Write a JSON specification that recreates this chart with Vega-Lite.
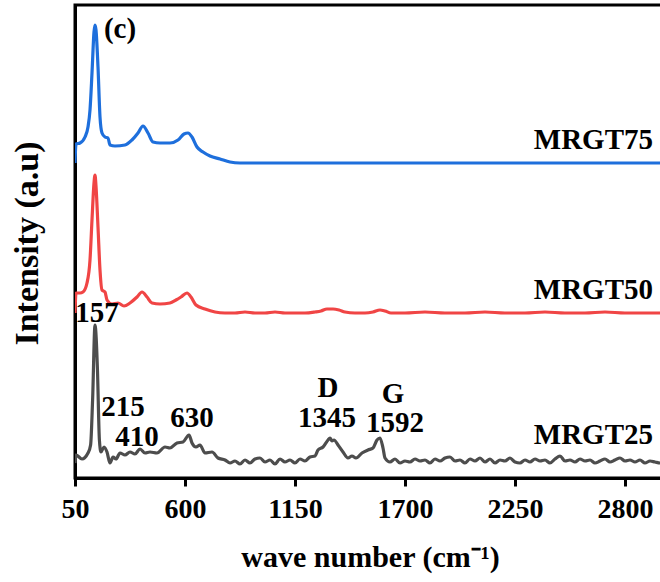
{
  "$schema": "https://vega.github.io/schema/vega-lite/v6.json",
  "width": 590,
  "height": 473,
  "autosize": {"type": "none"},
  "padding": {"left": 75, "top": 5, "right": 0, "bottom": 104},
  "background": "white",
  "view": {"stroke": "black", "strokeWidth": 3},
  "config": {"font": "Liberation Serif"},
  "datasets": {
    "spectra": [
      {"s":"MRGT25","w":50,"i":15},{"s":"MRGT25","w":55,"i":23},{"s":"MRGT25","w":85,"i":19},{"s":"MRGT25","w":115,"i":25},{"s":"MRGT25","w":128,"i":33},{"s":"MRGT25","w":138,"i":78},{"s":"MRGT25","w":150,"i":153},{"s":"MRGT25","w":162,"i":110},{"s":"MRGT25","w":172,"i":38},{"s":"MRGT25","w":180,"i":26},{"s":"MRGT25","w":195,"i":31},{"s":"MRGT25","w":210,"i":26},{"s":"MRGT25","w":225,"i":15},{"s":"MRGT25","w":240,"i":21},{"s":"MRGT25","w":255,"i":19},{"s":"MRGT25","w":275,"i":25},{"s":"MRGT25","w":300,"i":23},{"s":"MRGT25","w":325,"i":26},{"s":"MRGT25","w":350,"i":24},{"s":"MRGT25","w":375,"i":29},{"s":"MRGT25","w":400,"i":25},{"s":"MRGT25","w":425,"i":26},{"s":"MRGT25","w":460,"i":25},{"s":"MRGT25","w":500,"i":31},{"s":"MRGT25","w":525,"i":30},{"s":"MRGT25","w":560,"i":35},{"s":"MRGT25","w":590,"i":36},{"s":"MRGT25","w":620,"i":43},{"s":"MRGT25","w":635,"i":35},{"s":"MRGT25","w":655,"i":31},{"s":"MRGT25","w":675,"i":33},{"s":"MRGT25","w":700,"i":25},{"s":"MRGT25","w":735,"i":26},{"s":"MRGT25","w":765,"i":20},{"s":"MRGT25","w":800,"i":18},{"s":"MRGT25","w":825,"i":15},{"s":"MRGT25","w":850,"i":17},{"s":"MRGT25","w":875,"i":14},{"s":"MRGT25","w":900,"i":18},{"s":"MRGT25","w":925,"i":15},{"s":"MRGT25","w":950,"i":19},{"s":"MRGT25","w":975,"i":20},{"s":"MRGT25","w":1000,"i":16},{"s":"MRGT25","w":1025,"i":18},{"s":"MRGT25","w":1050,"i":14},{"s":"MRGT25","w":1075,"i":19},{"s":"MRGT25","w":1100,"i":16},{"s":"MRGT25","w":1125,"i":18},{"s":"MRGT25","w":1150,"i":15},{"s":"MRGT25","w":1175,"i":19},{"s":"MRGT25","w":1200,"i":17},{"s":"MRGT25","w":1225,"i":21},{"s":"MRGT25","w":1250,"i":22},{"s":"MRGT25","w":1265,"i":28},{"s":"MRGT25","w":1290,"i":31},{"s":"MRGT25","w":1315,"i":38},{"s":"MRGT25","w":1325,"i":40},{"s":"MRGT25","w":1335,"i":37},{"s":"MRGT25","w":1345,"i":38},{"s":"MRGT25","w":1365,"i":33},{"s":"MRGT25","w":1390,"i":26},{"s":"MRGT25","w":1415,"i":20},{"s":"MRGT25","w":1435,"i":22},{"s":"MRGT25","w":1455,"i":20},{"s":"MRGT25","w":1485,"i":25},{"s":"MRGT25","w":1515,"i":28},{"s":"MRGT25","w":1540,"i":30},{"s":"MRGT25","w":1560,"i":38},{"s":"MRGT25","w":1575,"i":40},{"s":"MRGT25","w":1590,"i":30},{"s":"MRGT25","w":1600,"i":20},{"s":"MRGT25","w":1625,"i":16},{"s":"MRGT25","w":1650,"i":19},{"s":"MRGT25","w":1675,"i":15},{"s":"MRGT25","w":1700,"i":17},{"s":"MRGT25","w":1725,"i":16},{"s":"MRGT25","w":1750,"i":19},{"s":"MRGT25","w":1775,"i":17},{"s":"MRGT25","w":1800,"i":18},{"s":"MRGT25","w":1825,"i":15},{"s":"MRGT25","w":1850,"i":19},{"s":"MRGT25","w":1875,"i":17},{"s":"MRGT25","w":1900,"i":20},{"s":"MRGT25","w":1925,"i":21},{"s":"MRGT25","w":1950,"i":17},{"s":"MRGT25","w":1975,"i":18},{"s":"MRGT25","w":2000,"i":15},{"s":"MRGT25","w":2025,"i":19},{"s":"MRGT25","w":2050,"i":17},{"s":"MRGT25","w":2075,"i":20},{"s":"MRGT25","w":2100,"i":16},{"s":"MRGT25","w":2125,"i":19},{"s":"MRGT25","w":2150,"i":15},{"s":"MRGT25","w":2175,"i":18},{"s":"MRGT25","w":2200,"i":17},{"s":"MRGT25","w":2225,"i":20},{"s":"MRGT25","w":2250,"i":16},{"s":"MRGT25","w":2275,"i":15},{"s":"MRGT25","w":2300,"i":18},{"s":"MRGT25","w":2325,"i":16},{"s":"MRGT25","w":2350,"i":19},{"s":"MRGT25","w":2375,"i":17},{"s":"MRGT25","w":2400,"i":18},{"s":"MRGT25","w":2425,"i":15},{"s":"MRGT25","w":2450,"i":19},{"s":"MRGT25","w":2475,"i":22},{"s":"MRGT25","w":2500,"i":17},{"s":"MRGT25","w":2525,"i":18},{"s":"MRGT25","w":2550,"i":16},{"s":"MRGT25","w":2575,"i":19},{"s":"MRGT25","w":2600,"i":17},{"s":"MRGT25","w":2625,"i":18},{"s":"MRGT25","w":2650,"i":15},{"s":"MRGT25","w":2675,"i":17},{"s":"MRGT25","w":2700,"i":19},{"s":"MRGT25","w":2725,"i":16},{"s":"MRGT25","w":2750,"i":18},{"s":"MRGT25","w":2775,"i":20},{"s":"MRGT25","w":2800,"i":17},{"s":"MRGT25","w":2825,"i":18},{"s":"MRGT25","w":2850,"i":16},{"s":"MRGT25","w":2875,"i":18},{"s":"MRGT25","w":2900,"i":15},{"s":"MRGT25","w":2925,"i":17},{"s":"MRGT25","w":2950,"i":16},{"s":"MRGT25","w":2975,"i":15},{"s":"MRGT25","w":3000,"i":16},

      {"s":"MRGT50","w":50,"i":165},{"s":"MRGT50","w":55,"i":185},{"s":"MRGT50","w":75,"i":185},{"s":"MRGT50","w":90,"i":186},{"s":"MRGT50","w":110,"i":195},{"s":"MRGT50","w":125,"i":218},{"s":"MRGT50","w":135,"i":258},{"s":"MRGT50","w":145,"i":295},{"s":"MRGT50","w":150,"i":303},{"s":"MRGT50","w":155,"i":292},{"s":"MRGT50","w":165,"i":251},{"s":"MRGT50","w":175,"i":208},{"s":"MRGT50","w":185,"i":188},{"s":"MRGT50","w":200,"i":186},{"s":"MRGT50","w":210,"i":178},{"s":"MRGT50","w":235,"i":174},{"s":"MRGT50","w":265,"i":175},{"s":"MRGT50","w":295,"i":172},{"s":"MRGT50","w":325,"i":175},{"s":"MRGT50","w":360,"i":181},{"s":"MRGT50","w":385,"i":186},{"s":"MRGT50","w":410,"i":181},{"s":"MRGT50","w":435,"i":175},{"s":"MRGT50","w":475,"i":174},{"s":"MRGT50","w":525,"i":175},{"s":"MRGT50","w":555,"i":178},{"s":"MRGT50","w":580,"i":181},{"s":"MRGT50","w":610,"i":185},{"s":"MRGT50","w":630,"i":181},{"s":"MRGT50","w":655,"i":173},{"s":"MRGT50","w":700,"i":169},{"s":"MRGT50","w":750,"i":166},{"s":"MRGT50","w":800,"i":165},{"s":"MRGT50","w":850,"i":165},{"s":"MRGT50","w":900,"i":166},{"s":"MRGT50","w":950,"i":165},{"s":"MRGT50","w":1000,"i":165},{"s":"MRGT50","w":1050,"i":166},{"s":"MRGT50","w":1100,"i":165},{"s":"MRGT50","w":1150,"i":165},{"s":"MRGT50","w":1200,"i":165},{"s":"MRGT50","w":1250,"i":166},{"s":"MRGT50","w":1280,"i":167},{"s":"MRGT50","w":1310,"i":169},{"s":"MRGT50","w":1340,"i":169},{"s":"MRGT50","w":1370,"i":168},{"s":"MRGT50","w":1400,"i":166},{"s":"MRGT50","w":1450,"i":165},{"s":"MRGT50","w":1500,"i":165},{"s":"MRGT50","w":1540,"i":166},{"s":"MRGT50","w":1575,"i":168},{"s":"MRGT50","w":1600,"i":167},{"s":"MRGT50","w":1630,"i":165},{"s":"MRGT50","w":1700,"i":165},{"s":"MRGT50","w":1800,"i":166},{"s":"MRGT50","w":1900,"i":165},{"s":"MRGT50","w":2000,"i":165},{"s":"MRGT50","w":2100,"i":166},{"s":"MRGT50","w":2200,"i":165},{"s":"MRGT50","w":2300,"i":165},{"s":"MRGT50","w":2400,"i":166},{"s":"MRGT50","w":2500,"i":165},{"s":"MRGT50","w":2600,"i":165},{"s":"MRGT50","w":2700,"i":166},{"s":"MRGT50","w":2800,"i":165},{"s":"MRGT50","w":2900,"i":165},{"s":"MRGT50","w":3000,"i":165},

      {"s":"MRGT75","w":50,"i":315},{"s":"MRGT75","w":55,"i":334},{"s":"MRGT75","w":75,"i":335},{"s":"MRGT75","w":100,"i":341},{"s":"MRGT75","w":115,"i":351},{"s":"MRGT75","w":125,"i":368},{"s":"MRGT75","w":135,"i":405},{"s":"MRGT75","w":145,"i":446},{"s":"MRGT75","w":150,"i":453},{"s":"MRGT75","w":155,"i":448},{"s":"MRGT75","w":165,"i":411},{"s":"MRGT75","w":175,"i":361},{"s":"MRGT75","w":185,"i":345},{"s":"MRGT75","w":200,"i":341},{"s":"MRGT75","w":215,"i":340},{"s":"MRGT75","w":225,"i":333},{"s":"MRGT75","w":250,"i":332},{"s":"MRGT75","w":300,"i":333},{"s":"MRGT75","w":335,"i":338},{"s":"MRGT75","w":365,"i":345},{"s":"MRGT75","w":390,"i":352},{"s":"MRGT75","w":415,"i":345},{"s":"MRGT75","w":440,"i":336},{"s":"MRGT75","w":475,"i":335},{"s":"MRGT75","w":525,"i":335},{"s":"MRGT75","w":565,"i":338},{"s":"MRGT75","w":595,"i":344},{"s":"MRGT75","w":615,"i":345},{"s":"MRGT75","w":635,"i":341},{"s":"MRGT75","w":660,"i":331},{"s":"MRGT75","w":690,"i":326},{"s":"MRGT75","w":725,"i":322},{"s":"MRGT75","w":775,"i":319},{"s":"MRGT75","w":825,"i":316},{"s":"MRGT75","w":875,"i":315},{"s":"MRGT75","w":1000,"i":315},{"s":"MRGT75","w":1500,"i":315},{"s":"MRGT75","w":2000,"i":315},{"s":"MRGT75","w":2500,"i":315},{"s":"MRGT75","w":3000,"i":315}
    ],
    "labels": [
      {"t":"157","w":160,"i":165},
      {"t":"215","w":290,"i":71},
      {"t":"410","w":360,"i":41},
      {"t":"630","w":635,"i":60},
      {"t":"D","w":1315,"i":90},
      {"t":"1345","w":1310,"i":60},
      {"t":"G","w":1640,"i":84},
      {"t":"1592","w":1650,"i":55},
      {"t":"(c)","w":275,"i":449}
    ],
    "names": [
      {"t":"MRGT75","w":2940,"i":338},
      {"t":"MRGT50","w":2940,"i":188},
      {"t":"MRGT25","w":2940,"i":43}
    ]
  },
  "layer": [
    {
      "data": {"name": "spectra"},
      "mark": {"type": "line", "strokeWidth": 3.2, "clip": true, "interpolate": "monotone"},
      "encoding": {
        "x": {
          "field": "w", "type": "quantitative",
          "scale": {"domain": [50, 3000], "nice": false, "zero": false},
          "axis": {
            "title": "wave number (cm⁻¹)",
            "values": [50, 600, 1150, 1700, 2250, 2800],
            "format": "d",
            "grid": false,
            "domainColor": "black", "domainWidth": 3,
            "tickColor": "black", "tickWidth": 3, "tickSize": 8,
            "labelFont": "Liberation Serif", "labelFontWeight": "bold", "labelFontSize": 28, "labelColor": "black",
            "labelPadding": 9, "labelFlush": false, "labelOverlap": false,
            "titleFont": "Liberation Serif", "titleFontWeight": "bold", "titleFontSize": 30, "titleColor": "black",
            "titleBaseline": "alphabetic", "titleY": 88
          }
        },
        "y": {
          "field": "i", "type": "quantitative",
          "scale": {"domain": [0, 473], "nice": false},
          "axis": {
            "title": "Intensity (a.u)",
            "labels": false, "ticks": false, "grid": false,
            "domainColor": "black", "domainWidth": 3,
            "titleFont": "Liberation Serif", "titleFontWeight": "bold", "titleFontSize": 34, "titleColor": "black",
            "titleAngle": -90, "titleBaseline": "middle", "titleAlign": "center",
            "titleX": -48, "titleY": 238
          }
        },
        "color": {
          "field": "s", "type": "nominal", "legend": null,
          "scale": {"domain": ["MRGT25", "MRGT50", "MRGT75"], "range": ["#4d4d4d", "#f04545", "#1e6fdc"]}
        },
        "detail": {"field": "s"}
      }
    },
    {
      "data": {"name": "labels"},
      "mark": {"type": "text", "font": "Liberation Serif", "fontWeight": "bold", "fontSize": 29, "color": "black", "align": "center", "baseline": "middle"},
      "encoding": {
        "x": {"field": "w", "type": "quantitative"},
        "y": {"field": "i", "type": "quantitative"},
        "text": {"field": "t"}
      }
    },
    {
      "data": {"name": "names"},
      "mark": {"type": "text", "font": "Liberation Serif", "fontWeight": "bold", "fontSize": 29, "color": "black", "align": "right", "baseline": "middle"},
      "encoding": {
        "x": {"field": "w", "type": "quantitative"},
        "y": {"field": "i", "type": "quantitative"},
        "text": {"field": "t"}
      }
    }
  ]
}
